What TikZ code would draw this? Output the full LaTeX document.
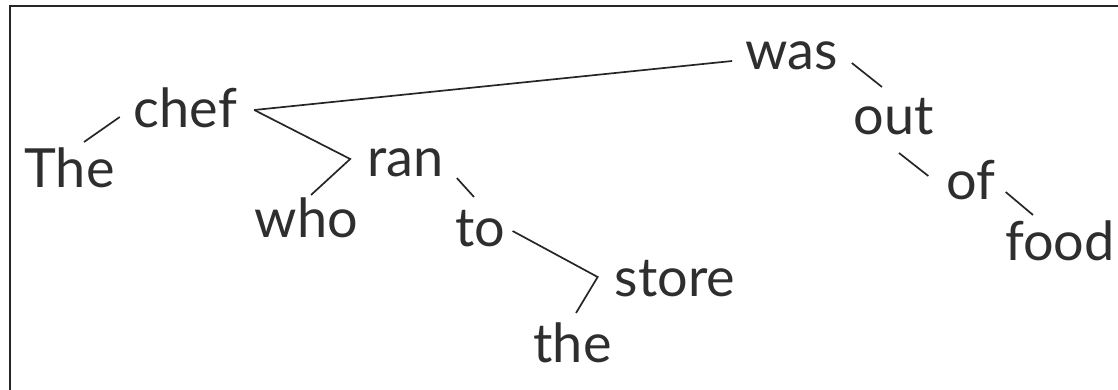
\documentclass[tikz,border=0pt]{standalone}
\usepackage{fontspec}
\setmainfont{Lato}
\usepackage{tikz}
\usetikzlibrary{calc}

\begin{document}
\begin{tikzpicture}[
        x=1pt, y=-1pt,
        word/.style={inner sep=0pt, anchor=base, text=black!82, font=\fontsize{54}{60}\selectfont},
        link/.style={draw=black!85, line width=1.7pt},
        frame/.style={draw=black!85, line width=2pt}
      ]
        \useasboundingbox (0,0) rectangle (1118,390);

        % Frame
        \draw[frame] (9.5,392) -- (9.5,6) -- (1120,6);

        % Words
        \node[word] (The) at (69.5,188) {The};
        \node[word] (chef) at (185.5,128) {chef};
        \node[word] (who) at (306.5,237) {who};
        \node[word] (ran) at (405.5,177) {ran};
        \node[word] (to) at (480.5,246) {to};
        \node[word] (store) at (675,296) {store};
        \node[word] (the) at (572.5,362) {the};
        \node[word] (was) at (791.5,70) {was};
        \node[word] (out) at (893.5,135) {out};
        \node[word] (of) at (971,200) {of};
        \node[word] (food) at (1060,260) {food};

        % Links
        \draw[link] ($(The.base)+(14.5,-46)$) -- ($(chef.base west)+(-14,-11)$);
        \draw[link] ($(chef.base east)+(17,-18)$) -- ($(was.base west)+(-13,-9)$);
        \draw[link] ($(chef.base east)+(17,-18)$) -- ($(ran.base west)+(-17,-18)$) -- ($(who.base)+(4.5,-42)$);
        \draw[link] ($(ran.base east)+(13,1)$) -- ($(to.base)+(-6.5,-49)$);
        \draw[link] ($(to.base east)+(7,-15)$) -- ($(store.base west)+(-17,-19)$) -- ($(the.base)+(3.5,-49)$);
        \draw[link] ($(was.base east)+(14,-7)$) -- ($(out.base)+(-11.5,-48)$);
        \draw[link] ($(out.base)+(5.5,18)$) -- ($(of.base west)+(-18,-24)$);
        \draw[link] ($(of.base east)+(10,-8)$) -- ($(food.base)+(-27,-45)$);

    \end{tikzpicture}
\end{document}
